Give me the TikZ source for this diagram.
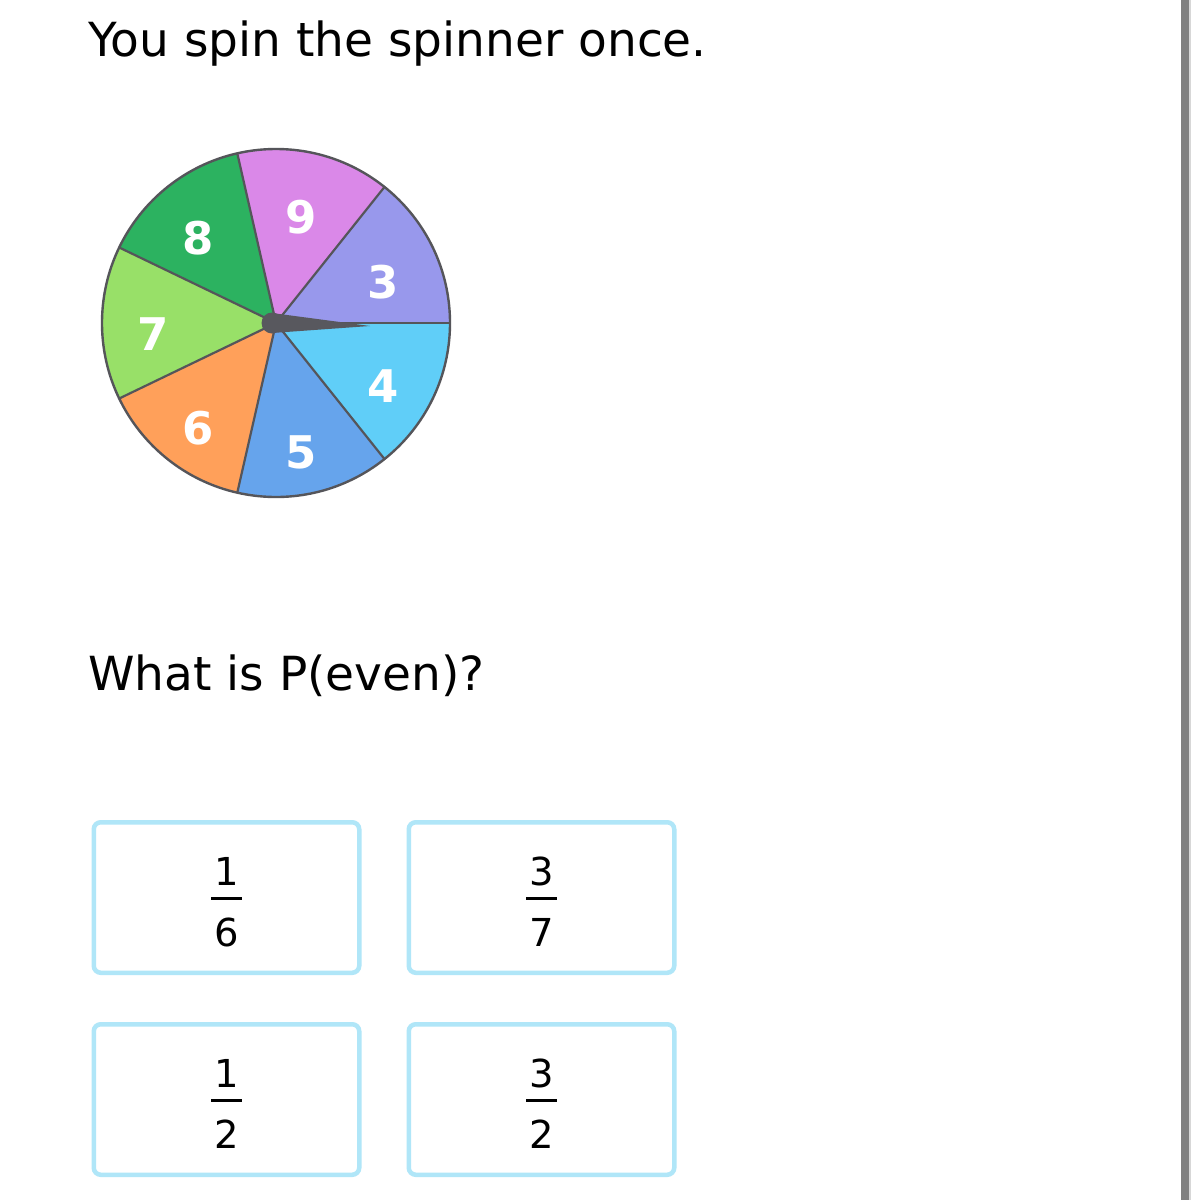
\documentclass[tikz,border=0pt]{standalone}
\usepackage{fontspec}
\setmainfont{DejaVu Sans}
\definecolor{cThree}{RGB}{152,152,236}
\definecolor{cNine}{RGB}{218,136,232}
\definecolor{cEight}{RGB}{44,178,96}
\definecolor{cSeven}{RGB}{152,224,104}
\definecolor{cSix}{RGB}{255,160,90}
\definecolor{cFive}{RGB}{102,164,236}
\definecolor{cFour}{RGB}{96,206,248}
\definecolor{rim}{RGB}{85,85,90}
\definecolor{needle}{RGB}{88,88,94}
\definecolor{boxline}{RGB}{176,230,248}
\definecolor{sidebar}{RGB}{128,128,128}
\definecolor{sideedge}{RGB}{215,215,215}
\begin{document}
\begin{tikzpicture}[x=1pt,y=-1pt,
  heading/.style={anchor=base west,inner sep=0pt,font=\fontsize{47}{56}\selectfont,text=black},
  seglabel/.style={inner sep=0pt,font=\fontsize{45}{52}\selectfont\bfseries,text=white},
  choice/.style={draw=boxline,line width=4.5pt,rounded corners=7pt,minimum width=265.5pt,minimum height=150.5pt,inner sep=0pt,fill=white},
  fracnum/.style={anchor=base,inner sep=0pt,font=\fontsize{38.5}{46}\selectfont,text=black},
  fracbar/.style={line width=3pt,black}]
\useasboundingbox (0,0) rectangle (1199,1200);
\fill[white] (0,0) rectangle (1199,1200);
% right side bar
\fill[sidebar] (1181,0) rectangle (1189,1200);
\fill[sideedge] (1189,0) rectangle (1191,1200);
% texts
\node[heading] (title) at (88,56) {You spin the spinner once.};
\node[heading] (question) at (88,690) {What is P(even)?};
% spinner
\begin{scope}[shift={(276,323)},yscale=-1]
  \coordinate (hub) at (0,0);
  \foreach \c [count=\i from 0] in {cThree,cNine,cEight,cSeven,cSix,cFive,cFour}{
    \pgfmathsetmacro{\a}{\i*360/7}
    \pgfmathsetmacro{\b}{(\i+1)*360/7}
    \fill[\c] (hub) -- (\a:174) arc[start angle=\a,end angle=\b,radius=174] -- cycle;
  }
  \foreach \i in {0,...,6}{
    \draw[rim,line width=2.2pt] (hub) -- ({\i*360/7}:174);
  }
  \draw[rim,line width=2.4pt] (hub) circle[radius=174];
  \fill[needle] (-4,10) -- (94,-3) -- (-4,-10) -- cycle;
  \fill[needle] (-4,0) circle[radius=10.5];
\end{scope}
\node[seglabel] (l3) at (383,282) {3};
\node[seglabel] (l9) at (301,217) {9};
\node[seglabel] (l8) at (198,238) {8};
\node[seglabel] (l7) at (153,334) {7};
\node[seglabel] (l6) at (198,428) {6};
\node[seglabel] (l5) at (301,452) {5};
\node[seglabel] (l4) at (383,386) {4};
% answer choices
\node[choice] (b1) at (226.5,897.5) {};
\node[choice] (b2) at (541.5,897.5) {};
\node[choice] (b3) at (226.5,1099.5) {};
\node[choice] (b4) at (541.5,1099.5) {};
\foreach \bx/\n/\d in {b1/1/6,b2/3/7,b3/1/2,b4/3/2}{
  \node[fracnum] (\bx n) at ([yshift=12.5pt]\bx.center) {\n};
  \node[fracnum] (\bx d) at ([yshift=-49pt]\bx.center) {\d};
  \draw[fracbar] ([xshift=-15.5pt,yshift=-0.5pt]\bx.center) -- ([xshift=15.5pt,yshift=-0.5pt]\bx.center);
}
\end{tikzpicture}
\end{document}
